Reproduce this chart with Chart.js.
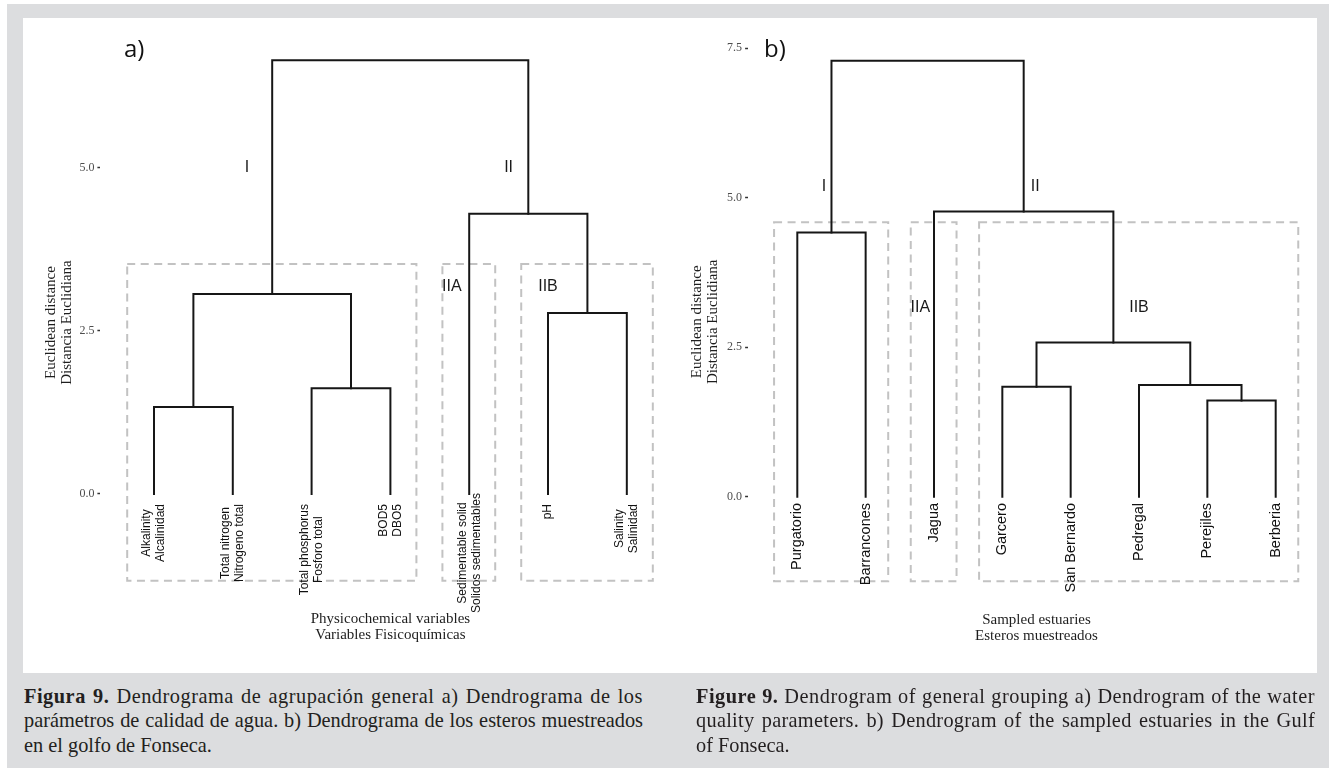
<!DOCTYPE html>
<html lang="es">
<head>
<meta charset="utf-8">
<title>Dendrogramas</title>
<script src="https://cdn.jsdelivr.net/npm/chart.js@4.4.1/dist/chart.umd.min.js"></script>
<style>
  html, body { margin: 0; padding: 0; background: #fff; }
  body { width: 1329px; height: 768px; position: relative; overflow: hidden; }
  #frame { position: absolute; left: 7px; top: 4px; width: 1322px; height: 764px; background: #dcdddf; }
  #sheet { position: absolute; left: 23px; top: 18px; width: 1294px; height: 655px; background: #fff; }
  canvas { position: absolute; }
  #chartA { left: 23px; top: 18px; }
  #chartB { left: 680px; top: 18px; }
  .cap { position: absolute; top: 683.5px; width: 655px; font-family: "Liberation Serif", "Times New Roman", serif;
         font-size: 21.5px; line-height: 24.5px; color: #231f20;
         transform: scaleX(0.945); transform-origin: 0 0; }
  .cap div { text-align: justify; text-align-last: justify; white-space: normal; }
  .cap div.wide { letter-spacing: 0.55px; }
  .cap div.mid { letter-spacing: 0.3px; }
  .cap div.last { text-align-last: left; }
  #capA { left: 23.5px; }
  #capB { left: 696px; }
</style>
</head>
<body>
<div id="frame"></div>
<div id="sheet"></div>
<canvas id="chartA" width="667" height="655" style="width:667px;height:655px"></canvas>
<canvas id="chartB" width="649" height="655" style="width:649px;height:655px"></canvas>
<div class="cap" id="capA">
  <div class="wide"><b>Figura 9.</b> Dendrograma de agrupación general a) Dendrograma de los</div>
  <div>parámetros de calidad de agua. b) Dendrograma de los esteros muestreados</div>
  <div class="last">en el golfo de Fonseca.</div>
</div>
<div class="cap" id="capB">
  <div class="wide"><b>Figure 9.</b> Dendrogram of general grouping a) Dendrogram of the water</div>
  <div class="mid">quality parameters. b) Dendrogram of the sampled estuaries in the Gulf</div>
  <div class="last">of Fonseca.</div>
</div>
<script>
// ---- a) physicochemical variables (leaf order left to right) ----
const leavesA = [
  'Alkalinity\nAlcalinidad',
  'Total nitrogen\nNitrogeno total',
  'Total phosphorus\nFosforo total',
  'BOD5\nDBO5',
  'Sedimentable solid\nSolidos sedimentables',
  'pH',
  'Salinity\nSalinidad'
];
// merge steps, hclust style: negative = leaf number, positive = earlier merge step
const mergeA = [[-1, -2], [-3, -4], [-6, -7], [1, 2], [-5, 3], [4, 5]];
const heightA = [1.33, 1.62, 2.77, 3.06, 4.29, 6.64];
const yTicksA = [0, 2.5, 5.0];
const groupNamesA = ['I', 'IIA', 'IIB'];
const groupFirstA = [1, 5, 6];
const groupLastA = [4, 5, 7];

// ---- b) sampled estuaries ----
const leavesB = ['Purgatorio', 'Barrancones', 'Jagua', 'Garcero', 'San Bernardo', 'Pedregal', 'Perejiles', 'Berberia'];
const mergeB = [[-7, -8], [-4, -5], [-6, 1], [2, 3], [-1, -2], [-3, 4], [5, 6]];
const heightB = [1.61, 1.84, 1.87, 2.58, 4.42, 4.77, 7.29];
const yTicksB = [0, 2.5, 5.0, 7.5];
const groupNamesB = ['I', 'IIA', 'IIB'];
const groupFirstB = [1, 3, 4];
const groupLastB = [2, 3, 8];

const SERIF = '"Liberation Serif", "Times New Roman", serif';
const SANS = '"Liberation Sans", Arial, sans-serif';

// Turn the merge table into elbow links: (left child) -> up -> across -> down -> (right child)
function buildLinks(merge, height) {
  const node = [];
  const pos = r => (r < 0 ? { x: -r, y: 0 } : node[r - 1]);
  return merge.map((m, i) => {
    const a = pos(m[0]);
    const b = pos(m[1]);
    const h = height[i];
    node[i] = { x: (a.x + b.x) / 2, y: h };
    return [{ x: a.x, y: a.y }, { x: a.x, y: h }, { x: b.x, y: h }, { x: b.x, y: b.y }];
  });
}

function dendroDecor(cfg) {
  return {
    id: 'dendroDecor',
    beforeDatasetsDraw(chart) {
      const { ctx, scales: { x, y } } = chart;
      ctx.save();
      ctx.strokeStyle = '#c2c2c2';
      ctx.lineWidth = 2;
      ctx.setLineDash([8, 5.5]);
      cfg.groupFirst.forEach((f, i) => {
        const x0 = x.getPixelForValue(f - 0.34);
        const x1 = x.getPixelForValue(cfg.groupLast[i] + 0.33);
        const y0 = y.getPixelForValue(cfg.boxTop);
        const y1 = y.getPixelForValue(cfg.boxBottom);
        ctx.strokeRect(x0, y0, x1 - x0, y1 - y0);
      });
      ctx.restore();
    },
    afterDraw(chart) {
      const { ctx, scales: { x, y } } = chart;
      const y0 = y.getPixelForValue(0);
      ctx.save();
      // leaf labels, rotated to read upwards, hanging below the zero line
      ctx.fillStyle = '#111';
      ctx.font = `${cfg.leafSize}px ${SANS}`;
      ctx.textAlign = 'center';
      ctx.textBaseline = 'middle';
      cfg.leaves.forEach((lab, i) => {
        const lines = lab.split('\n');
        const w = Math.max(...lines.map(l => ctx.measureText(l).width));
        const top = y0 + cfg.leafGap - (cfg.leafLift[i] || 0);
        ctx.save();
        ctx.translate(x.getPixelForValue(i + 1), top);
        ctx.rotate(-Math.PI / 2);
        lines.forEach((l, k) => ctx.fillText(l, -w / 2, (k - (lines.length - 1) / 2) * cfg.leafLine));
        ctx.restore();
      });
      // cluster names
      ctx.fillStyle = '#1a1a1a';
      ctx.font = `16px ${SANS}`;
      cfg.tags.forEach(t => {
        ctx.fillText(t.text, x.getPixelForValue(t.x), y.getPixelForValue(t.y));
      });
      // panel letter
      ctx.font = `24px "Open Sans", ${SANS}`;
      ctx.textAlign = 'left';
      ctx.textBaseline = 'alphabetic';
      ctx.fillStyle = '#111';
      ctx.fillText(cfg.letter, cfg.letterX, cfg.letterY);
      ctx.restore();
    }
  };
}

function makePanel(id, cfg) {
  const links = buildLinks(cfg.merge, cfg.height);
  return new Chart(document.getElementById(id), {
    type: 'scatter',
    data: {
      datasets: links.map(pts => ({
        data: pts,
        showLine: true,
        borderColor: '#161616',
        borderWidth: 2,
        pointRadius: 0,
        pointHoverRadius: 0,
        fill: false,
        tension: 0,
        borderJoinStyle: 'miter',
        borderCapStyle: 'square'
      }))
    },
    options: {
      responsive: false,
      animation: false,
      devicePixelRatio: 1,
      events: [],
      layout: { padding: { top: cfg.padTop, right: cfg.padRight, left: 0, bottom: 0 } },
      plugins: { legend: { display: false }, tooltip: { enabled: false } },
      scales: {
        x: {
          type: 'linear', min: cfg.xMin, max: cfg.xMax,
          ticks: { display: false },
          grid: { display: false },
          border: { display: false },
          title: {
            display: true, text: cfg.xTitle, color: '#1e1e1e',
            font: { family: SERIF, size: 15, lineHeight: 16 / 15 },
            padding: { top: 0, bottom: cfg.xTitlePad }
          },
          afterFit: s => { s.height = cfg.xAxisH; }
        },
        y: {
          type: 'linear', min: cfg.yMin, max: cfg.yMax,
          afterBuildTicks: s => { s.ticks = cfg.yTicks.map(v => ({ value: v })); },
          ticks: {
            callback: v => Number(v).toFixed(1),
            color: '#4d4d4d', font: { family: SERIF, size: 12 }, padding: 3, autoSkip: false
          },
          grid: { drawOnChartArea: false, drawTicks: true, tickLength: 3, tickWidth: 1.5, tickColor: '#333' },
          border: { display: false },
          title: {
            display: true, text: ['Euclidean distance', 'Distancia Euclidiana'], color: '#1e1e1e',
            font: { family: SERIF, size: 15, lineHeight: 1.1 },
            padding: { top: cfg.yTitlePad, bottom: 0 }
          },
          afterFit: s => { s.width = cfg.yAxisW; }
        }
      }
    },
    plugins: [dendroDecor(cfg)]
  });
}

makePanel('chartA', {
  merge: mergeA, height: heightA, leaves: leavesA, yTicks: yTicksA,
  groupNames: groupNamesA, groupFirst: groupFirstA, groupLast: groupLastA,
  xMin: 0.32, xMax: 7.68, yMin: -1.75, yMax: 7.0,
  padTop: 18.7, padRight: 9.6, yAxisW: 77.4, xAxisH: 64.7,
  yTitlePad: 19.75, xTitlePad: 29.6,
  xTitle: ['Physicochemical variables', 'Variables Fisicoquímicas'],
  boxTop: 3.52, boxBottom: -1.33,
  leafSize: 12, leafLine: 14, leafGap: 10, leafLift: { 4: 11 },
  tags: [
    { text: 'I', x: 2.18, y: 4.99 },
    { text: 'II', x: 5.50, y: 4.99 },
    { text: 'IIA', x: 4.78, y: 3.18 },
    { text: 'IIB', x: 6.0, y: 3.18 }
  ],
  letter: 'a)', letterX: 101, letterY: 39
});

makePanel('chartB', {
  merge: mergeB, height: heightB, leaves: leavesB, yTicks: yTicksB,
  groupNames: groupNamesB, groupFirst: groupFirstB, groupLast: groupLastB,
  xMin: 0.28, xMax: 8.72, yMin: -1.9, yMax: 7.75,
  padTop: 15.3, padRight: 4.1, yAxisW: 68.1, xAxisH: 62.7,
  yTitlePad: 8.75, xTitlePad: 28.6,
  xTitle: ['Sampled estuaries', 'Esteros muestreados'],
  boxTop: 4.59, boxBottom: -1.415,
  leafSize: 14.5, leafLine: 16, leafGap: 6.3, leafLift: {},
  tags: [
    { text: 'I', x: 1.39, y: 5.18 },
    { text: 'II', x: 4.48, y: 5.18 },
    { text: 'IIA', x: 2.80, y: 3.17 },
    { text: 'IIB', x: 6.0, y: 3.17 }
  ],
  letter: 'b)', letterX: 84, letterY: 39
});
</script>
</body>
</html>
